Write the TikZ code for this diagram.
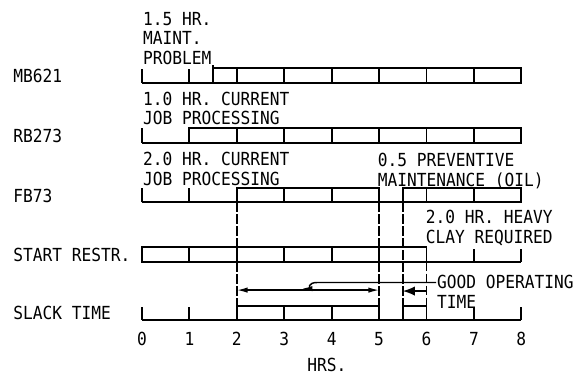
\documentclass[tikz,border=0pt]{standalone}
\usepackage{fontspec}
\setmonofont[FakeStretch=0.9]{DejaVu Sans Mono}
\usetikzlibrary{arrows.meta}

\begin{document}
\begin{tikzpicture}[x=1.25cm, y=1.25cm,
    lbl/.style={font=\ttfamily\fontsize{13.5}{14.6}\selectfont, inner sep=0pt, align=left},
    bar/.style={line width=1.4pt},
    guide/.style={line width=1.1pt, dash pattern=on 7pt off 2pt},
    lead/.style={line width=1.1pt}]
    % rows (baseline y): MB621=5.0, RB273=3.74, FB73=2.48, START=1.23, SLACK=0
    \useasboundingbox (-2.995,-1.223) rectangle (9.279,6.748);

    % ===== dashed guides =====
    \foreach \gx in {2,5,5.5} \draw[guide] (\gx,2.48) -- (\gx,0);
    \draw[guide] (6,1.23) -- (6,0);

    % ===== MB621 =====
    \node[lbl, anchor=base west] (mb) at (-2.72,5.0) {MB621};
    \node[lbl, anchor=north west] (maint) at (0.02,6.5) {1.5 HR.\\MAINT.\\PROBLEM};
    \draw[bar] (0,5.0) -- (8,5.0);
    \foreach \t in {0,1} \draw[bar] (\t,5.0) -- ++(0,0.3);
    \draw[bar] (1.5,5.0) rectangle (8,5.31);
    \foreach \t in {2,...,7} \draw[bar] (\t,5.0) -- ++(0,0.31);
    \coordinate (m15) at (1.5,5.0);
    \draw[bar] (m15) -- (m15 |- maint.south);

    % ===== RB273 =====
    \node[lbl, anchor=base west] (rb) at (-2.72,3.74) {RB273};
    \node[lbl, anchor=north west] (jobrb) at (0.02,4.81) {1.0 HR. CURRENT\\JOB PROCESSING};
    \draw[bar] (0,3.74) -- (8,3.74);
    \draw[bar] (0,3.74) -- ++(0,0.3);
    \draw[bar] (1,3.74) rectangle (8,4.04);
    \foreach \t in {2,...,7} \draw[bar] (\t,3.74) -- ++(0,0.3);

    % ===== FB73 =====
    \node[lbl, anchor=base west] (fb) at (-2.72,2.48) {FB73};
    \node[lbl, anchor=north west] (jobfb) at (0.02,3.54) {2.0 HR. CURRENT\\JOB PROCESSING};
    \node[lbl, anchor=north west] (oil) at (4.97,3.52) {0.5 PREVENTIVE\\MAINTENANCE (OIL)};
    \draw[bar] (0,2.48) -- (8,2.48);
    \foreach \t in {0,1} \draw[bar] (\t,2.48) -- ++(0,0.3);
    \draw[bar] (2,2.48) rectangle (5,2.78);
    \draw[bar] (5.5,2.48) rectangle (8,2.78);
    \foreach \t in {3,4,6,7} \draw[bar] (\t,2.48) -- ++(0,0.3);

    % ===== START RESTR. =====
    \node[lbl, anchor=base west] (sr) at (-2.72,1.23) {START RESTR.};
    \node[lbl, anchor=north west] (clay) at (5.98,2.32) {2.0 HR. HEAVY\\CLAY REQUIRED};
    \draw[bar] (0,1.23) -- (8,1.23);
    \draw[bar] (0,1.23) rectangle (6,1.54);
    \foreach \t in {1,...,5} \draw[bar] (\t,1.23) -- ++(0,0.31);
    \foreach \t in {7,8} \draw[bar] (\t,1.23) -- ++(0,0.26);

    % ===== good operating time =====
    \node[lbl, anchor=north west] (good) at (6.22,0.95) {GOOD OPERATING\\TIME};
    \coordinate (a2) at (2,0.63);
    \coordinate (a5) at (5,0.63);
    \draw[lead, {Latex[length=8pt,width=4pt]}-{Latex[length=8pt,width=4pt]}] (a2) -- (a5);
    \coordinate (gl) at (6.2,0.79);
    \draw[lead, -{Latex[length=8pt,width=4pt]}] (gl) -- (3.69,0.79)
        .. controls (3.5,0.79) and (3.5,0.66) .. (3.37,0.66);
    \coordinate (g6) at (6,0.61);
    \coordinate (g55) at (5.5,0.61);
    \draw[lead, -{Latex[length=9pt,width=7pt]}] (g6) -- (g55);

    % ===== SLACK TIME =====
    \node[lbl, anchor=base west] (sl) at (-2.72,0) {SLACK TIME};
    \draw[bar] (0,0) -- (8,0);
    \foreach \t in {0,1,7,8} \draw[bar] (\t,0) -- ++(0,0.28);
    \draw[bar] (2,0) rectangle (5,0.3);
    \draw[bar] (5.5,0) rectangle (6,0.3);
    \foreach \t in {3,4} \draw[bar] (\t,0) -- ++(0,0.3);

    % ===== axis =====
    \foreach \t in {0,...,8} \node[lbl, anchor=north] (t\t) at (\t,-0.25) {\t};
    \node[lbl, anchor=north] (hrs) at (3.9,-0.8) {HRS.};
  \end{tikzpicture}
\end{document}
